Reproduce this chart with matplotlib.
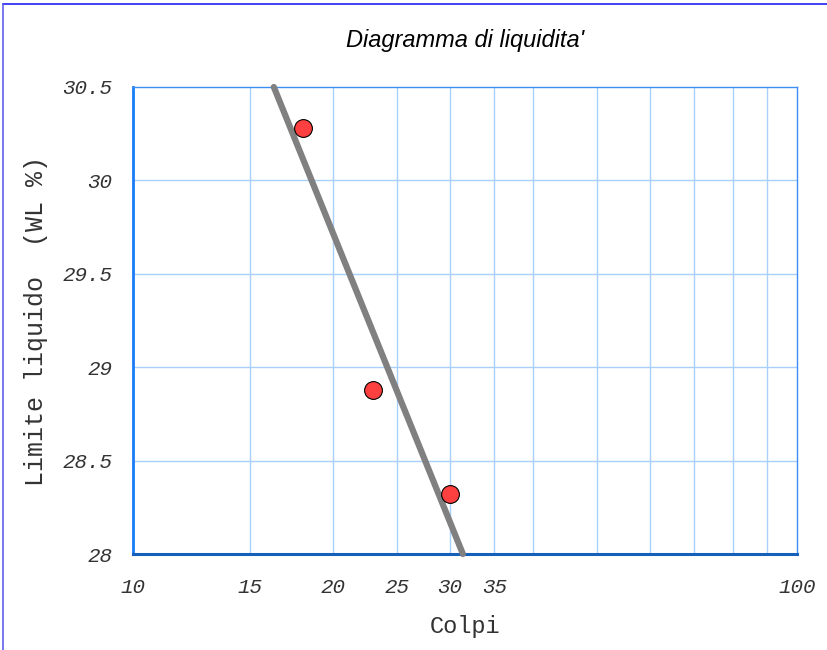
import numpy as np
import matplotlib
matplotlib.use("Agg")
import matplotlib.pyplot as plt
from matplotlib.lines import Line2D

# Data
colpi = [18, 23, 30]
wl = [30.28, 28.88, 28.32]
x_ticks = [10, 15, 20, 25, 30, 35, 100]
x_tick_labels = ["10", "15", "20", "25", "30", "35", "100"]
x_grid = [15, 20, 25, 30, 35, 40, 50, 60, 70, 80, 90]
y_ticks = [28, 28.5, 29, 29.5, 30, 30.5]
y_tick_labels = ["28", "28.5", "29", "29.5", "30", "30.5"]
title = "Diagramma di liquidita'"
xlabel = "Colpi"
ylabel = "Limite liquido  (WL %)"

fig = plt.figure(figsize=(8.27, 6.5), dpi=100)
ax = fig.add_axes([133/827, 1-554/650, (797-133)/827, (554-87)/650])

ax.set_xscale("log")
ax.set_xlim(10, 100)
ax.set_ylim(28, 30.5)

grid_color = "#a8d0fb"
for g in x_grid:
    ax.axvline(g, color=grid_color, lw=1.0, zorder=1)
for g in y_ticks[1:-1]:
    ax.axhline(g, color=grid_color, lw=1.0, zorder=1)

# least-squares fit WL vs log10(N)
lx = np.log10(colpi)
b, a = np.polyfit(lx, wl, 1)
y_ends = np.array([30.5, 28.0])
x_ends = 10 ** ((y_ends - a) / b)
ax.plot(x_ends, y_ends, color="#808080", lw=4.5, solid_capstyle="round",
        zorder=3, clip_on=False)

ax.plot(colpi, wl, "o", ms=12.8, mfc="#ff4040", mec="black", mew=0.8, zorder=4)

ax.set_xticks(x_ticks)
ax.set_xticklabels(x_tick_labels)
ax.xaxis.set_minor_locator(matplotlib.ticker.NullLocator())
ax.set_yticks(y_ticks)
ax.set_yticklabels(y_tick_labels)

for lab in ax.get_xticklabels() + ax.get_yticklabels():
    lab.set_fontfamily("Liberation Mono")
    lab.set_fontstyle("italic")
    lab.set_fontsize(15)
    lab.set_color("#333333")
ax.tick_params(axis="both", length=0)
ax.tick_params(axis="x", pad=17)
ax.tick_params(axis="y", pad=15)

for s in ["top", "right"]:
    ax.spines[s].set_color("#3a8ef5")
    ax.spines[s].set_linewidth(1.0)
ax.spines["left"].set_color("#1a7cf5")
ax.spines["left"].set_linewidth(2.0)
ax.spines["bottom"].set_color("#1560b8")
ax.spines["bottom"].set_linewidth(2.2)

ax.set_xlabel(xlabel, fontfamily="Liberation Mono", fontsize=17, color="#333333", labelpad=13)
ax.set_ylabel(ylabel, fontfamily="Liberation Mono", fontsize=18, color="#333333", labelpad=10)

fig.text(465/827, 1-40/650, title, ha="center", va="center",
         fontfamily="Liberation Sans", style="italic", fontsize=17, color="black")

# figure border (top and left)
fig.add_artist(Line2D([3/827, 1], [1-4/650, 1-4/650], color="#2020f0", lw=1.2, transform=fig.transFigure))
fig.add_artist(Line2D([3/827, 3/827], [0, 1-4/650], color="#6060f0", lw=1.2, transform=fig.transFigure))

fig.savefig("out.png", dpi=100)
